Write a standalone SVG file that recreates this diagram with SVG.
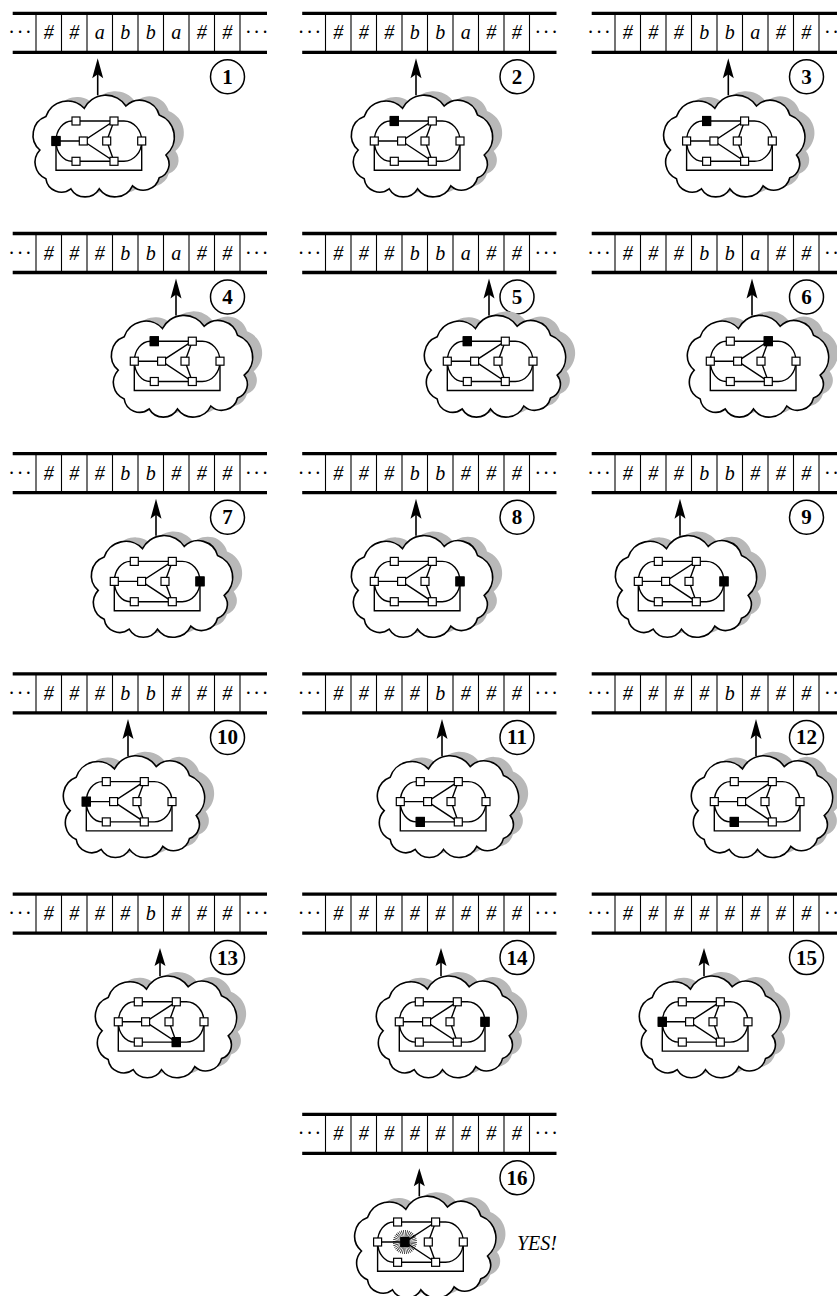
<svg xmlns="http://www.w3.org/2000/svg" xmlns:xlink="http://www.w3.org/1999/xlink" width="837" height="1296" viewBox="0 0 837 1296">
<style>
.tl{stroke:#000;stroke-width:3.3;fill:none}
.cl{stroke:#000;stroke-width:1.1;fill:none}
.sym{font-family:"Liberation Serif",serif;font-style:italic;font-size:20px;text-anchor:middle;fill:#000}
.dots{font-family:"Liberation Serif",serif;font-size:20px;text-anchor:middle;fill:#000}
.num{font-family:"Liberation Serif",serif;font-weight:bold;font-size:21px;text-anchor:middle;fill:#000}
.yes{font-family:"Liberation Serif",serif;font-style:italic;font-size:20px;fill:#000}
.ring{fill:#fff;stroke:#000;stroke-width:1.5}
.cloud{fill:#fff;stroke:#000;stroke-width:1.6}
.shadow{fill:#b8b8b8;stroke:none}
.g{fill:none;stroke:#000;stroke-width:1.4}
.n{fill:#fff;stroke:#000;stroke-width:1.2}
.f{fill:#000;stroke:#000;stroke-width:1.2}
.arr{stroke:#000;stroke-width:1.6;fill:none}
.ah{fill:#000;stroke:none}
.sun{fill:none;stroke:#000;stroke-width:7;stroke-dasharray:0.55 0.93}
</style>
<defs>
<g id="tape">
<line class="tl" x1="12.7" y1="0" x2="267" y2="0"/>
<line class="tl" x1="12.7" y1="39" x2="267" y2="39"/>
<path class="cl" d="M36 0V39M61.5 0V39M87 0V39M112.5 0V39M138 0V39M163.5 0V39M189 0V39M214.5 0V39M240 0V39"/>
<text class="dots" x="11.7 20 28.3" y="26">···</text>
<text class="dots" x="248.3 256.7 265" y="26">···</text>
</g>
<path id="cl" d="M-64.3 3.2A19.7 19.7 0 0 1 -58.3 -30.2A22.7 22.7 0 0 1 -20 -38.5A24.2 24.2 0 0 1 21.7 -40.8A20 20 0 0 1 55 -31.8A23.5 23.5 0 0 1 61.7 8.2A14.5 14.5 0 0 1 55 31A16.2 16.2 0 0 1 28.3 39A19.4 19.4 0 0 1 -5 42A16.4 16.4 0 0 1 -33.3 42A15.6 15.6 0 0 1 -58.3 32A18 18 0 0 1 -64.3 3.2Z"/>
<g id="graph">
<path class="g" d="M-25.7 107.7H26.3A17.7 20.15 0 0 1 26.3 148H-25.7A16 20.15 0 0 1 -25.7 107.7Z"/>
<path class="g" d="M-41.7 127.7V157H44V127.7M-41.7 127.7H-14.4L16.3 107.7L9 127.7L16.3 148L-14.4 127.7"/>
<rect class="n" x="-45.7" y="123.7" width="8" height="8"/>
<rect class="n" x="-25.7" y="103.7" width="8" height="8"/>
<rect class="n" x="12.3" y="103.7" width="8" height="8"/>
<rect class="n" x="-18.4" y="123.7" width="8" height="8"/>
<rect class="n" x="5" y="123.7" width="8" height="8"/>
<rect class="n" x="40" y="123.7" width="8" height="8"/>
<rect class="n" x="-25.7" y="144" width="8" height="8"/>
<rect class="n" x="12.3" y="144" width="8" height="8"/>
</g>
<g id="machine">
<use xlink:href="#cl" class="shadow" transform="translate(16,129.5)"/>
<use xlink:href="#cl" class="cloud" transform="translate(6.5,133.5)"/>
<use xlink:href="#graph"/>
</g>
<g id="arrowA">
<path class="arr" d="M0 82V60"/>
<path class="ah" d="M0 45L5.5 65L0 61L-5.5 65Z"/>
</g>
<g id="arrowB">
<path class="arr" d="M0 82V68"/>
<path class="ah" d="M0 54L5.5 72L0 68.5L-5.5 72Z"/>
</g>
</defs>

<g id="connectors">
<use xlink:href="#arrowA" transform="translate(97.7,13.3)"/>
<use xlink:href="#arrowA" transform="translate(416,13.3)"/>
<use xlink:href="#arrowA" transform="translate(728.3,13.3)"/>
<use xlink:href="#arrowA" transform="translate(176,233.5)"/>
<use xlink:href="#arrowA" transform="translate(489,233.5)"/>
<use xlink:href="#arrowA" transform="translate(752,233.5)"/>
<use xlink:href="#arrowA" transform="translate(156,453.7)"/>
<use xlink:href="#arrowA" transform="translate(416,453.7)"/>
<use xlink:href="#arrowA" transform="translate(680,453.7)"/>
<use xlink:href="#arrowA" transform="translate(128,673.9)"/>
<use xlink:href="#arrowA" transform="translate(442,673.9)"/>
<use xlink:href="#arrowA" transform="translate(756,673.9)"/>
<use xlink:href="#arrowB" transform="translate(160,894.1)"/>
<use xlink:href="#arrowB" transform="translate(441,894.1)"/>
<use xlink:href="#arrowB" transform="translate(704,894.1)"/>
<use xlink:href="#arrowB" transform="translate(419.3,1114.3)"/>
</g>

<g id="panel-1">
<g transform="translate(0,13.3)"><use xlink:href="#tape"/><text class="sym" x="48.75 74.25 99.75 125.25 150.75 176.25 201.75 227.25" y="26">##abba##</text><circle class="ring" cx="227.5" cy="63.5" r="17"/><text class="num" x="227.5" y="70.5">1</text></g>
<g id="machine-1" transform="translate(97.7,13.3)"><use xlink:href="#machine"/><rect class="f" x="-45.7" y="123.2" width="8" height="9"/></g>
</g>
<g id="panel-2">
<g transform="translate(289.5,13.3)"><use xlink:href="#tape"/><text class="sym" x="48.75 74.25 99.75 125.25 150.75 176.25 201.75 227.25" y="26">###bba##</text><circle class="ring" cx="227.5" cy="63.5" r="17"/><text class="num" x="227.5" y="70.5">2</text></g>
<g id="machine-2" transform="translate(416,13.3)"><use xlink:href="#machine"/><rect class="f" x="-25.7" y="103.2" width="8" height="9"/></g>
</g>
<g id="panel-3">
<g transform="translate(579,13.3)"><use xlink:href="#tape"/><text class="sym" x="48.75 74.25 99.75 125.25 150.75 176.25 201.75 227.25" y="26">###bba##</text><circle class="ring" cx="227.5" cy="63.5" r="17"/><text class="num" x="227.5" y="70.5">3</text></g>
<g id="machine-3" transform="translate(728.3,13.3)"><use xlink:href="#machine"/><rect class="f" x="-25.7" y="103.2" width="8" height="9"/></g>
</g>
<g id="panel-4">
<g transform="translate(0,233.5)"><use xlink:href="#tape"/><text class="sym" x="48.75 74.25 99.75 125.25 150.75 176.25 201.75 227.25" y="26">###bba##</text><circle class="ring" cx="227.5" cy="63.5" r="17"/><text class="num" x="227.5" y="70.5">4</text></g>
<g id="machine-4" transform="translate(176,233.5)"><use xlink:href="#machine"/><rect class="f" x="-25.7" y="103.2" width="8" height="9"/></g>
</g>
<g id="panel-5">
<g transform="translate(289.5,233.5)"><use xlink:href="#tape"/><text class="sym" x="48.75 74.25 99.75 125.25 150.75 176.25 201.75 227.25" y="26">###bba##</text><circle class="ring" cx="227.5" cy="63.5" r="17"/><text class="num" x="227.5" y="70.5">5</text></g>
<g id="machine-5" transform="translate(489,233.5)"><use xlink:href="#machine"/><rect class="f" x="-25.7" y="103.2" width="8" height="9"/></g>
</g>
<g id="panel-6">
<g transform="translate(579,233.5)"><use xlink:href="#tape"/><text class="sym" x="48.75 74.25 99.75 125.25 150.75 176.25 201.75 227.25" y="26">###bba##</text><circle class="ring" cx="227.5" cy="63.5" r="17"/><text class="num" x="227.5" y="70.5">6</text></g>
<g id="machine-6" transform="translate(752,233.5)"><use xlink:href="#machine"/><rect class="f" x="12.3" y="103.2" width="8" height="9"/></g>
</g>
<g id="panel-7">
<g transform="translate(0,453.7)"><use xlink:href="#tape"/><text class="sym" x="48.75 74.25 99.75 125.25 150.75 176.25 201.75 227.25" y="26">###bb###</text><circle class="ring" cx="227.5" cy="63.5" r="17"/><text class="num" x="227.5" y="70.5">7</text></g>
<g id="machine-7" transform="translate(156,453.7)"><use xlink:href="#machine"/><rect class="f" x="40" y="123.2" width="8" height="9"/></g>
</g>
<g id="panel-8">
<g transform="translate(289.5,453.7)"><use xlink:href="#tape"/><text class="sym" x="48.75 74.25 99.75 125.25 150.75 176.25 201.75 227.25" y="26">###bb###</text><circle class="ring" cx="227.5" cy="63.5" r="17"/><text class="num" x="227.5" y="70.5">8</text></g>
<g id="machine-8" transform="translate(416,453.7)"><use xlink:href="#machine"/><rect class="f" x="40" y="123.2" width="8" height="9"/></g>
</g>
<g id="panel-9">
<g transform="translate(579,453.7)"><use xlink:href="#tape"/><text class="sym" x="48.75 74.25 99.75 125.25 150.75 176.25 201.75 227.25" y="26">###bb###</text><circle class="ring" cx="227.5" cy="63.5" r="17"/><text class="num" x="227.5" y="70.5">9</text></g>
<g id="machine-9" transform="translate(680,453.7)"><use xlink:href="#machine"/><rect class="f" x="40" y="123.2" width="8" height="9"/></g>
</g>
<g id="panel-10">
<g transform="translate(0,673.9)"><use xlink:href="#tape"/><text class="sym" x="48.75 74.25 99.75 125.25 150.75 176.25 201.75 227.25" y="26">###bb###</text><circle class="ring" cx="227.5" cy="63.5" r="17"/><text class="num" x="227.5" y="70.5">10</text></g>
<g id="machine-10" transform="translate(128,673.9)"><use xlink:href="#machine"/><rect class="f" x="-45.7" y="123.2" width="8" height="9"/></g>
</g>
<g id="panel-11">
<g transform="translate(289.5,673.9)"><use xlink:href="#tape"/><text class="sym" x="48.75 74.25 99.75 125.25 150.75 176.25 201.75 227.25" y="26">####b###</text><circle class="ring" cx="227.5" cy="63.5" r="17"/><text class="num" x="227.5" y="70.5">11</text></g>
<g id="machine-11" transform="translate(442,673.9)"><use xlink:href="#machine"/><rect class="f" x="-25.7" y="143.5" width="8" height="9"/></g>
</g>
<g id="panel-12">
<g transform="translate(579,673.9)"><use xlink:href="#tape"/><text class="sym" x="48.75 74.25 99.75 125.25 150.75 176.25 201.75 227.25" y="26">####b###</text><circle class="ring" cx="227.5" cy="63.5" r="17"/><text class="num" x="227.5" y="70.5">12</text></g>
<g id="machine-12" transform="translate(756,673.9)"><use xlink:href="#machine"/><rect class="f" x="-25.7" y="143.5" width="8" height="9"/></g>
</g>
<g id="panel-13">
<g transform="translate(0,894.1)"><use xlink:href="#tape"/><text class="sym" x="48.75 74.25 99.75 125.25 150.75 176.25 201.75 227.25" y="26">####b###</text><circle class="ring" cx="227.5" cy="63.5" r="17"/><text class="num" x="227.5" y="70.5">13</text></g>
<g id="machine-13" transform="translate(160,894.1)"><use xlink:href="#machine"/><rect class="f" x="12.3" y="143.5" width="8" height="9"/></g>
</g>
<g id="panel-14">
<g transform="translate(289.5,894.1)"><use xlink:href="#tape"/><text class="sym" x="48.75 74.25 99.75 125.25 150.75 176.25 201.75 227.25" y="26">########</text><circle class="ring" cx="227.5" cy="63.5" r="17"/><text class="num" x="227.5" y="70.5">14</text></g>
<g id="machine-14" transform="translate(441,894.1)"><use xlink:href="#machine"/><rect class="f" x="40" y="123.2" width="8" height="9"/></g>
</g>
<g id="panel-15">
<g transform="translate(579,894.1)"><use xlink:href="#tape"/><text class="sym" x="48.75 74.25 99.75 125.25 150.75 176.25 201.75 227.25" y="26">########</text><circle class="ring" cx="227.5" cy="63.5" r="17"/><text class="num" x="227.5" y="70.5">15</text></g>
<g id="machine-15" transform="translate(704,894.1)"><use xlink:href="#machine"/><rect class="f" x="-45.7" y="123.2" width="8" height="9"/></g>
</g>
<g id="panel-16">
<g transform="translate(289.5,1114.3)"><use xlink:href="#tape"/><text class="sym" x="48.75 74.25 99.75 125.25 150.75 176.25 201.75 227.25" y="26">########</text><circle class="ring" cx="227.5" cy="63.5" r="17"/><text class="num" x="227.5" y="70.5">16</text></g>
<g id="machine-16" transform="translate(419.3,1114.3)"><use xlink:href="#machine"/><circle class="sun" cx="-14.4" cy="127.7" r="8.5"/><rect class="f" x="-18.4" y="123.2" width="8" height="9"/></g>
<text class="yes" x="517" y="1250">YES!</text>
</g>
</svg>
